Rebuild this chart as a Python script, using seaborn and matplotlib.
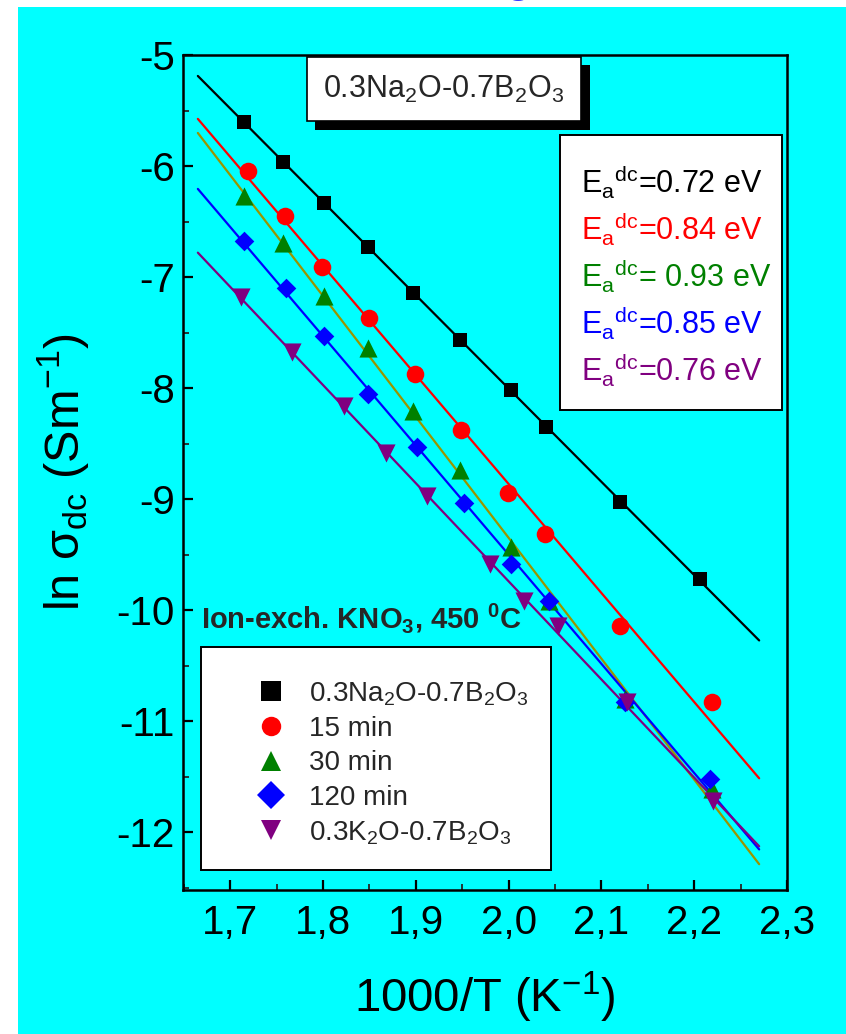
import numpy as np
import matplotlib
matplotlib.use("Agg")
import matplotlib.pyplot as plt
import seaborn as sns
from matplotlib import font_manager
from matplotlib.lines import Line2D
from matplotlib.patches import Rectangle
from matplotlib.ticker import MultipleLocator
import matplotlib.patheffects as pe

# values (1000/T in 1/K, ln sigma_dc)
x_na = [1.715, 1.757, 1.801, 1.848, 1.897, 1.948, 2.003, 2.040, 2.120, 2.206]
y_na = [-5.605, -5.96, -6.333, -6.727, -7.144, -7.565, -8.019, -8.346, -9.03, -9.72]

x_15 = [1.719, 1.759, 1.799, 1.849, 1.899, 1.949, 1.999, 2.039, 2.120, 2.219]
y_15 = [-6.041, -6.453, -6.907, -7.372, -7.877, -8.38, -8.948, -9.318, -10.14, -10.83]

x_30 = [1.715, 1.757, 1.801, 1.848, 1.897, 1.948, 2.003, 2.043, 2.125, 2.219]
y_30 = [-6.267, -6.696, -7.169, -7.643, -8.206, -8.738, -9.428, -9.919, -10.80, -11.61]

x_120 = [1.715, 1.760, 1.801, 1.848, 1.901, 1.952, 2.003, 2.044, 2.125, 2.217]
y_120 = [-6.673, -7.099, -7.529, -8.049, -8.527, -9.038, -9.58, -9.919, -10.83, -11.52]

x_k = [1.712, 1.766, 1.822, 1.868, 1.912, 1.980, 2.016, 2.053, 2.128, 2.220]
y_k = [-7.183, -7.679, -8.16, -8.587, -8.972, -9.588, -9.919, -10.144, -10.83, -11.72]

labels = [r"0.3Na$_\mathregular{2}$O-0.7B$_\mathregular{2}$O$_\mathregular{3}$",
          "15 min", "30 min", "120 min",
          r"0.3K$_\mathregular{2}$O-0.7B$_\mathregular{2}$O$_\mathregular{3}$"]
energies = ["=0.72 eV", "=0.84 eV", "= 0.93 eV", "=0.85 eV", "=0.76 eV"]

x_ticks = [1.7, 1.8, 1.9, 2.0, 2.1, 2.2, 2.3]
x_tick_labels = ["1,7", "1,8", "1,9", "2,0", "2,1", "2,2", "2,3"]
y_ticks = [-12, -11, -10, -9, -8, -7, -6, -5]
y_tick_labels = ["-12", "-11", "-10", "-9", "-8", "-7", "-6", "-5"]

fit_lo, fit_hi = 1.665, 2.27

CYAN = "#00ffff"
pt_colors = ["black", "#ff0000", "#008000", "#0000ff", "#800080"]
line_colors = ["black", "#ff0000", "#9a9400", "#0000ff", "#800080"]
markers = ["s", "o", "^", "D", "v"]
sizes = [110, 160, 170, 100, 170]

sns.set_theme(style="ticks")
names = {f.name for f in font_manager.fontManager.ttflist}
narrow = "Liberation Sans Narrow" if "Liberation Sans Narrow" in names else "Liberation Sans"
plt.rcParams["font.family"] = ["Liberation Sans", "DejaVu Sans"]
plt.rcParams["mathtext.fontset"] = "custom"
plt.rcParams["mathtext.rm"] = "Liberation Sans"
plt.rcParams["axes.unicode_minus"] = False

W, H = 846, 1034
fig = plt.figure(figsize=(W / 100, H / 100), dpi=100)
fig.patch.set_facecolor("white")


def fx(p):
    return p / W


def fy(p):
    return 1 - p / H


fig.patches.append(Rectangle((fx(18), 0), 1 - fx(18), fy(7), transform=fig.transFigure,
                             facecolor=CYAN, edgecolor="none", zorder=-10))
# bottom of a cut-off title letter at the top edge
fig.text(fx(518), fy(-8), "g", color="#3535ff", fontsize=30, fontweight="bold",
         ha="center", va="baseline")

ax = fig.add_axes([fx(183), fy(890), fx(787) - fx(183), fy(55) - fy(890)])
ax.set_facecolor(CYAN)

series = [(x_na, y_na), (x_15, y_15), (x_30, y_30), (x_120, y_120), (x_k, y_k)]
for (xs, ys), pc, lc, mk, sz in zip(series, pt_colors, line_colors, markers, sizes):
    k, b = np.polyfit(xs, ys, 1)
    xf = np.array([fit_lo, fit_hi])
    sns.lineplot(x=xf, y=k * xf + b, color=lc, lw=1.6, ax=ax, zorder=2)
    sns.scatterplot(x=xs, y=ys, marker=mk, s=sz, color=pc, edgecolor=pc, linewidth=0,
                    ax=ax, zorder=3)

ax.set_xlim(1.649, 2.3)
ax.set_ylim(-12.52, -5)
ax.set_xticks(x_ticks)
ax.set_xticklabels(x_tick_labels)
ax.set_yticks(y_ticks)
ax.set_yticklabels(y_tick_labels)
ax.xaxis.set_minor_locator(MultipleLocator(0.05))
ax.yaxis.set_minor_locator(MultipleLocator(0.5))
ax.tick_params(which="major", direction="in", length=7, width=1.6, colors="black")
ax.tick_params(which="minor", direction="in", length=4, width=1.3)
ax.tick_params(axis="x", pad=10)
ax.tick_params(axis="y", pad=6)
for lab in ax.get_xticklabels() + ax.get_yticklabels():
    lab.set_fontfamily(narrow)
    lab.set_fontsize(29)
for s in ax.spines.values():
    s.set_linewidth(1.8)
    s.set_color("black")

ax.set_xlabel(r"1000/T (K$^\mathregular{-1}$)", fontsize=34, family=narrow, labelpad=20,
              color="black")
ax.set_ylabel(r"ln σ$_\mathregular{dc}$ (Sm$^\mathregular{-1}$)", fontsize=35, labelpad=18,
              color="black")

# composition box with black shadow
t = fig.text(fx(444), fy(89), r"0.3Na$_\mathregular{2}$O-0.7B$_\mathregular{2}$O$_\mathregular{3}$",
             fontsize=22, family=narrow, ha="center", va="center",
             bbox=dict(boxstyle="square,pad=0.55", facecolor="white", edgecolor="black", lw=1.2))
t.get_bbox_patch().set_path_effects([pe.SimplePatchShadow(offset=(6, -6), shadow_rgbFace="black",
                                                          alpha=1.0), pe.Normal()])

# activation energy box
fig.patches.append(Rectangle((fx(560), fy(410)), fx(782) - fx(560), fy(135) - fy(410),
                             transform=fig.transFigure, facecolor="white", edgecolor="black",
                             lw=1.4, zorder=5))
for i, (e, c) in enumerate(zip(energies, pt_colors)):
    fig.text(fx(581), fy(182 + 47 * i), r"E$_\mathregular{a}$$^\mathregular{dc}$" + e,
             color=c, fontsize=22, ha="left", va="center", zorder=6)

fig.text(fx(201), fy(618), r"Ion-exch. KNO$_\mathregular{3}$, 450 $^\mathregular{0}$C",
         fontsize=21, fontweight="bold", ha="left", va="center")

# legend box
fig.patches.append(Rectangle((fx(201), fy(870)), fx(551) - fx(201), fy(647) - fy(870),
                             transform=fig.transFigure, facecolor="white", edgecolor="black",
                             lw=1.4, zorder=5))
handles = [Line2D([], [], ls="none", marker=m, color=c, markersize=14, markeredgewidth=0)
           for m, c in zip(markers, pt_colors)]
leg = fig.legend(handles, labels, loc="upper left", bbox_to_anchor=(fx(240), fy(666)),
                 frameon=False, fontsize=20, labelspacing=0.3, handletextpad=0.8,
                 handlelength=1.2, borderpad=0)
leg.set_zorder(6)

fig.savefig("out.png", dpi=100, facecolor="white")
